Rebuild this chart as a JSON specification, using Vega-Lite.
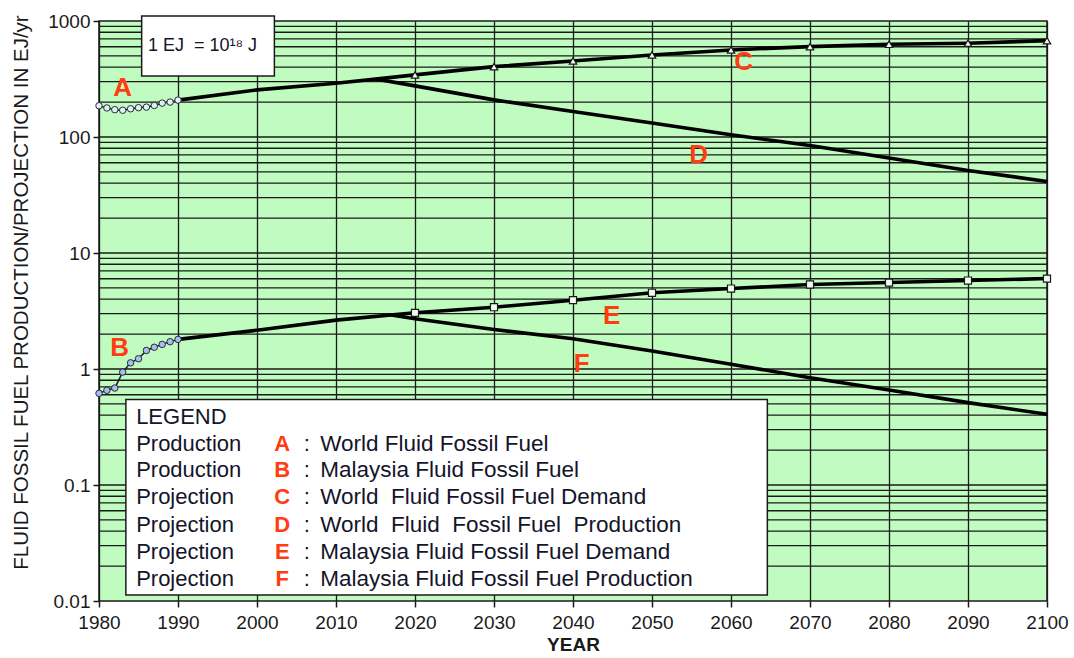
{
  "$schema": "https://vega.github.io/schema/vega-lite/v6.json",
  "width": 948,
  "height": 580,
  "autosize": {"type": "none"},
  "padding": {"left": 99, "top": 21, "right": 27, "bottom": 57},
  "background": "white",
  "config": {
    "font": "Liberation Sans",
    "view": {"fill": "#c0fcc0", "stroke": "#1a1a1a", "strokeWidth": 1.5},
    "axisX": {
      "grid": true, "gridColor": "#1a1a1a", "gridWidth": 1.3, "gridOpacity": 1,
      "domain": false, "tickColor": "#1a1a1a", "tickSize": 6, "tickWidth": 1.5,
      "labelFontSize": 19, "labelColor": "#1a1a1a", "labelPadding": 6, "labelFlush": false, "labelBound": false, "labelOverlap": false,
      "titleFontSize": 19, "titleFontWeight": "bold", "titleColor": "#1a1a1a", "titlePadding": 3
    },
    "axisY": {
      "grid": false, "domain": false, "tickColor": "#1a1a1a", "tickSize": 6, "tickWidth": 1.5,
      "labelFontSize": 19, "labelColor": "#1a1a1a", "labelPadding": 3, "labelFlush": false, "labelBound": false, "labelOverlap": false,
      "titleFontSize": 20.5, "titleFontWeight": "normal", "titleColor": "#1a1a1a", "titlePadding": 16, "titleY": 271
    }
  },
  "datasets": {
    "grid": [
      {"value": 0.02}, {"value": 0.03}, {"value": 0.04}, {"value": 0.05}, {"value": 0.06}, {"value": 0.07}, {"value": 0.08}, {"value": 0.09},
      {"value": 0.1}, {"value": 0.2}, {"value": 0.3}, {"value": 0.4}, {"value": 0.5}, {"value": 0.6}, {"value": 0.7}, {"value": 0.8}, {"value": 0.9},
      {"value": 1}, {"value": 2}, {"value": 3}, {"value": 4}, {"value": 5}, {"value": 6}, {"value": 7}, {"value": 8}, {"value": 9},
      {"value": 10}, {"value": 20}, {"value": 30}, {"value": 40}, {"value": 50}, {"value": 60}, {"value": 70}, {"value": 80}, {"value": 90},
      {"value": 100}, {"value": 200}, {"value": 300}, {"value": 400}, {"value": 500}, {"value": 600}, {"value": 700}, {"value": 800}, {"value": 900}
    ],
    "obs": [
      {"series": "A", "year": 1980, "value": 186}, {"series": "A", "year": 1981, "value": 178}, {"series": "A", "year": 1982, "value": 172},
      {"series": "A", "year": 1983, "value": 170}, {"series": "A", "year": 1984, "value": 175}, {"series": "A", "year": 1985, "value": 179},
      {"series": "A", "year": 1986, "value": 181}, {"series": "A", "year": 1987, "value": 187}, {"series": "A", "year": 1988, "value": 196},
      {"series": "A", "year": 1989, "value": 200}, {"series": "A", "year": 1990, "value": 208},
      {"series": "B", "year": 1980, "value": 0.617}, {"series": "B", "year": 1981, "value": 0.655}, {"series": "B", "year": 1982, "value": 0.685},
      {"series": "B", "year": 1983, "value": 0.94}, {"series": "B", "year": 1984, "value": 1.13}, {"series": "B", "year": 1985, "value": 1.226},
      {"series": "B", "year": 1986, "value": 1.445}, {"series": "B", "year": 1987, "value": 1.54}, {"series": "B", "year": 1988, "value": 1.63},
      {"series": "B", "year": 1989, "value": 1.72}, {"series": "B", "year": 1990, "value": 1.8}
    ],
    "proj": [
      {"series": "C", "year": 1990, "value": 208}, {"series": "C", "year": 2000, "value": 255}, {"series": "C", "year": 2010, "value": 291},
      {"series": "C", "year": 2020, "value": 343}, {"series": "C", "year": 2030, "value": 404}, {"series": "C", "year": 2040, "value": 452},
      {"series": "C", "year": 2050, "value": 510}, {"series": "C", "year": 2060, "value": 563}, {"series": "C", "year": 2070, "value": 601},
      {"series": "C", "year": 2080, "value": 630}, {"series": "C", "year": 2090, "value": 643}, {"series": "C", "year": 2100, "value": 677},
      {"series": "D", "year": 2015, "value": 316}, {"series": "D", "year": 2020, "value": 276}, {"series": "D", "year": 2030, "value": 209},
      {"series": "D", "year": 2040, "value": 166}, {"series": "D", "year": 2050, "value": 132}, {"series": "D", "year": 2060, "value": 104.5},
      {"series": "D", "year": 2070, "value": 84.5}, {"series": "D", "year": 2080, "value": 65.8}, {"series": "D", "year": 2090, "value": 51.5},
      {"series": "D", "year": 2100, "value": 41.4},
      {"series": "E", "year": 1990, "value": 1.8}, {"series": "E", "year": 2000, "value": 2.16}, {"series": "E", "year": 2010, "value": 2.64},
      {"series": "E", "year": 2020, "value": 3.05}, {"series": "E", "year": 2030, "value": 3.41}, {"series": "E", "year": 2040, "value": 3.92},
      {"series": "E", "year": 2050, "value": 4.54}, {"series": "E", "year": 2060, "value": 4.94}, {"series": "E", "year": 2070, "value": 5.35},
      {"series": "E", "year": 2080, "value": 5.56}, {"series": "E", "year": 2090, "value": 5.79}, {"series": "E", "year": 2100, "value": 6.02},
      {"series": "F", "year": 2017, "value": 2.92}, {"series": "F", "year": 2020, "value": 2.71}, {"series": "F", "year": 2030, "value": 2.19},
      {"series": "F", "year": 2040, "value": 1.82}, {"series": "F", "year": 2050, "value": 1.43}, {"series": "F", "year": 2060, "value": 1.1},
      {"series": "F", "year": 2070, "value": 0.84}, {"series": "F", "year": 2080, "value": 0.658}, {"series": "F", "year": 2090, "value": 0.513},
      {"series": "F", "year": 2100, "value": 0.407}
    ],
    "letters": [
      {"letter": "A", "year": 1983, "value": 265},
      {"letter": "B", "year": 1982.6, "value": 1.53},
      {"letter": "C", "year": 2061.6, "value": 443},
      {"letter": "D", "year": 2055.9, "value": 70.3},
      {"letter": "E", "year": 2044.9, "value": 2.89},
      {"letter": "F", "year": 2041.1, "value": 1.1}
    ],
    "boxes": [
      {"box": "legend", "year": 1983.4, "year2": 2064.6, "value": 0.547, "value2": 0.01125},
      {"box": "unit", "year": 1985.4, "year2": 2002.2, "value": 1104, "value2": 336}
    ],
    "legendRows": [
      {"kind": "Production", "letter": "A", "desc": "World Fluid Fossil Fuel", "value": 0.2244},
      {"kind": "Production", "letter": "B", "desc": "Malaysia Fluid Fossil Fuel", "value": 0.1341},
      {"kind": "Projection", "letter": "C", "desc": "World\u00a0 Fluid Fossil Fuel Demand", "value": 0.0785},
      {"kind": "Projection", "letter": "D", "desc": "World\u00a0 Fluid\u00a0 Fossil Fuel\u00a0 Production", "value": 0.0451},
      {"kind": "Projection", "letter": "E", "desc": "Malaysia Fluid Fossil Fuel Demand", "value": 0.0264},
      {"kind": "Projection", "letter": "F", "desc": "Malaysia Fluid Fossil Fuel Production", "value": 0.01545}
    ],
    "notes": [
      {"label": "LEGEND", "year": 1984.7, "value": 0.3833},
      {"label": "1 EJ\u00a0 = 10¹⁸ J", "year": 1986.2, "value": 609}
    ]
  },
  "layer": [
    {
      "data": {"name": "grid"},
      "mark": {"type": "rule", "color": "#1a1a1a", "strokeWidth": 1.3},
      "encoding": {
        "y": {"field": "value", "type": "quantitative", "scale": {"type": "log", "domain": [0.01, 1000], "nice": false}, "axis": {"title": "FLUID FOSSIL FUEL PRODUCTION/PROJECTION IN EJ/yr", "values": [0.01, 0.1, 1, 10, 100, 1000], "format": "~g"}}
      }
    },
    {
      "data": {"name": "boxes"},
      "mark": {"type": "rect", "fill": "white", "stroke": "#1a1a1a", "strokeWidth": 1.5},
      "encoding": {
        "x": {"field": "year", "type": "quantitative", "scale": {"domain": [1980, 2100], "nice": false, "zero": false}, "axis": {"title": "YEAR", "values": [1980, 1990, 2000, 2010, 2020, 2030, 2040, 2050, 2060, 2070, 2080, 2090, 2100], "format": "d"}},
        "x2": {"field": "year2"},
        "y": {"field": "value", "type": "quantitative", "scale": {"type": "log", "domain": [0.01, 1000], "nice": false}, "axis": {"title": "FLUID FOSSIL FUEL PRODUCTION/PROJECTION IN EJ/yr", "values": [0.01, 0.1, 1, 10, 100, 1000], "format": "~g"}},
        "y2": {"field": "value2"}
      }
    },
    {
      "data": {"name": "proj"},
      "mark": {"type": "line", "color": "black", "strokeWidth": 3.6},
      "encoding": {
        "x": {"field": "year", "type": "quantitative", "scale": {"domain": [1980, 2100], "nice": false, "zero": false}, "axis": {"title": "YEAR", "values": [1980, 1990, 2000, 2010, 2020, 2030, 2040, 2050, 2060, 2070, 2080, 2090, 2100], "format": "d"}},
        "y": {"field": "value", "type": "quantitative", "scale": {"type": "log", "domain": [0.01, 1000], "nice": false}, "axis": {"title": "FLUID FOSSIL FUEL PRODUCTION/PROJECTION IN EJ/yr", "values": [0.01, 0.1, 1, 10, 100, 1000], "format": "~g"}},
        "detail": {"field": "series", "type": "nominal"}
      }
    },
    {
      "data": {"name": "obs"},
      "mark": {"type": "line", "color": "#1a1a1a", "strokeWidth": 1.5},
      "encoding": {
        "x": {"field": "year", "type": "quantitative", "scale": {"domain": [1980, 2100], "nice": false, "zero": false}, "axis": {"title": "YEAR", "values": [1980, 1990, 2000, 2010, 2020, 2030, 2040, 2050, 2060, 2070, 2080, 2090, 2100], "format": "d"}},
        "y": {"field": "value", "type": "quantitative", "scale": {"type": "log", "domain": [0.01, 1000], "nice": false}, "axis": {"title": "FLUID FOSSIL FUEL PRODUCTION/PROJECTION IN EJ/yr", "values": [0.01, 0.1, 1, 10, 100, 1000], "format": "~g"}},
        "detail": {"field": "series", "type": "nominal"}
      }
    },
    {
      "data": {"name": "obs"},
      "mark": {"type": "point", "shape": "circle", "filled": true, "size": 42, "stroke": "#2a2a3a", "strokeWidth": 1, "opacity": 1},
      "encoding": {
        "x": {"field": "year", "type": "quantitative", "scale": {"domain": [1980, 2100], "nice": false, "zero": false}, "axis": {"title": "YEAR", "values": [1980, 1990, 2000, 2010, 2020, 2030, 2040, 2050, 2060, 2070, 2080, 2090, 2100], "format": "d"}},
        "y": {"field": "value", "type": "quantitative", "scale": {"type": "log", "domain": [0.01, 1000], "nice": false}, "axis": {"title": "FLUID FOSSIL FUEL PRODUCTION/PROJECTION IN EJ/yr", "values": [0.01, 0.1, 1, 10, 100, 1000], "format": "~g"}},
        "fill": {"field": "series", "type": "nominal", "scale": {"domain": ["A", "B"], "range": ["#dcf2f5", "#a9bdf0"]}, "legend": null}
      }
    },
    {
      "data": {"name": "proj"},
      "transform": [{"filter": "datum.series === 'C' && datum.year >= 2020"}],
      "mark": {"type": "point", "shape": "triangle-up", "filled": true, "fill": "#eefcee", "size": 55, "stroke": "#1a1a1a", "strokeWidth": 1.2, "opacity": 1},
      "encoding": {
        "x": {"field": "year", "type": "quantitative", "scale": {"domain": [1980, 2100], "nice": false, "zero": false}, "axis": {"title": "YEAR", "values": [1980, 1990, 2000, 2010, 2020, 2030, 2040, 2050, 2060, 2070, 2080, 2090, 2100], "format": "d"}},
        "y": {"field": "value", "type": "quantitative", "scale": {"type": "log", "domain": [0.01, 1000], "nice": false}, "axis": {"title": "FLUID FOSSIL FUEL PRODUCTION/PROJECTION IN EJ/yr", "values": [0.01, 0.1, 1, 10, 100, 1000], "format": "~g"}}
      }
    },
    {
      "data": {"name": "proj"},
      "transform": [{"filter": "datum.series === 'E' && datum.year >= 2020"}],
      "mark": {"type": "point", "shape": "square", "filled": true, "fill": "#eefcee", "size": 50, "stroke": "#1a1a1a", "strokeWidth": 1.2, "opacity": 1},
      "encoding": {
        "x": {"field": "year", "type": "quantitative", "scale": {"domain": [1980, 2100], "nice": false, "zero": false}, "axis": {"title": "YEAR", "values": [1980, 1990, 2000, 2010, 2020, 2030, 2040, 2050, 2060, 2070, 2080, 2090, 2100], "format": "d"}},
        "y": {"field": "value", "type": "quantitative", "scale": {"type": "log", "domain": [0.01, 1000], "nice": false}, "axis": {"title": "FLUID FOSSIL FUEL PRODUCTION/PROJECTION IN EJ/yr", "values": [0.01, 0.1, 1, 10, 100, 1000], "format": "~g"}}
      }
    },
    {
      "data": {"name": "letters"},
      "mark": {"type": "text", "fontSize": 26, "fontWeight": "bold", "color": "#ff3c12", "align": "center", "baseline": "middle"},
      "encoding": {
        "x": {"field": "year", "type": "quantitative", "scale": {"domain": [1980, 2100], "nice": false, "zero": false}, "axis": {"title": "YEAR", "values": [1980, 1990, 2000, 2010, 2020, 2030, 2040, 2050, 2060, 2070, 2080, 2090, 2100], "format": "d"}},
        "y": {"field": "value", "type": "quantitative", "scale": {"type": "log", "domain": [0.01, 1000], "nice": false}, "axis": {"title": "FLUID FOSSIL FUEL PRODUCTION/PROJECTION IN EJ/yr", "values": [0.01, 0.1, 1, 10, 100, 1000], "format": "~g"}},
        "text": {"field": "letter"}
      }
    },
    {
      "data": {"name": "notes"},
      "transform": [{"filter": "datum.label === 'LEGEND'"}],
      "mark": {"type": "text", "fontSize": 22, "color": "#14142a", "align": "left", "baseline": "middle"},
      "encoding": {
        "x": {"field": "year", "type": "quantitative", "scale": {"domain": [1980, 2100], "nice": false, "zero": false}, "axis": {"title": "YEAR", "values": [1980, 1990, 2000, 2010, 2020, 2030, 2040, 2050, 2060, 2070, 2080, 2090, 2100], "format": "d"}},
        "y": {"field": "value", "type": "quantitative", "scale": {"type": "log", "domain": [0.01, 1000], "nice": false}, "axis": {"title": "FLUID FOSSIL FUEL PRODUCTION/PROJECTION IN EJ/yr", "values": [0.01, 0.1, 1, 10, 100, 1000], "format": "~g"}},
        "text": {"field": "label"}
      }
    },
    {
      "data": {"name": "notes"},
      "transform": [{"filter": "datum.label !== 'LEGEND'"}],
      "mark": {"type": "text", "fontSize": 18, "color": "#14142a", "align": "left", "baseline": "middle"},
      "encoding": {
        "x": {"field": "year", "type": "quantitative", "scale": {"domain": [1980, 2100], "nice": false, "zero": false}, "axis": {"title": "YEAR", "values": [1980, 1990, 2000, 2010, 2020, 2030, 2040, 2050, 2060, 2070, 2080, 2090, 2100], "format": "d"}},
        "y": {"field": "value", "type": "quantitative", "scale": {"type": "log", "domain": [0.01, 1000], "nice": false}, "axis": {"title": "FLUID FOSSIL FUEL PRODUCTION/PROJECTION IN EJ/yr", "values": [0.01, 0.1, 1, 10, 100, 1000], "format": "~g"}},
        "text": {"field": "label"}
      }
    },
    {
      "data": {"name": "legendRows"},
      "mark": {"type": "text", "fontSize": 22, "color": "#14142a", "align": "left", "baseline": "middle"},
      "encoding": {
        "x": {"datum": 1984.7, "type": "quantitative", "scale": {"domain": [1980, 2100], "nice": false, "zero": false}, "axis": {"title": "YEAR", "values": [1980, 1990, 2000, 2010, 2020, 2030, 2040, 2050, 2060, 2070, 2080, 2090, 2100], "format": "d"}},
        "y": {"field": "value", "type": "quantitative", "scale": {"type": "log", "domain": [0.01, 1000], "nice": false}, "axis": {"title": "FLUID FOSSIL FUEL PRODUCTION/PROJECTION IN EJ/yr", "values": [0.01, 0.1, 1, 10, 100, 1000], "format": "~g"}},
        "text": {"field": "kind"}
      }
    },
    {
      "data": {"name": "legendRows"},
      "mark": {"type": "text", "fontSize": 22, "fontWeight": "bold", "color": "#ff3c12", "align": "center", "baseline": "middle"},
      "encoding": {
        "x": {"datum": 2003.2, "type": "quantitative", "scale": {"domain": [1980, 2100], "nice": false, "zero": false}, "axis": {"title": "YEAR", "values": [1980, 1990, 2000, 2010, 2020, 2030, 2040, 2050, 2060, 2070, 2080, 2090, 2100], "format": "d"}},
        "y": {"field": "value", "type": "quantitative", "scale": {"type": "log", "domain": [0.01, 1000], "nice": false}, "axis": {"title": "FLUID FOSSIL FUEL PRODUCTION/PROJECTION IN EJ/yr", "values": [0.01, 0.1, 1, 10, 100, 1000], "format": "~g"}},
        "text": {"field": "letter"}
      }
    },
    {
      "data": {"name": "legendRows"},
      "mark": {"type": "text", "fontSize": 22, "color": "#14142a", "align": "center", "baseline": "middle", "text": ":"},
      "encoding": {
        "x": {"datum": 2006.3, "type": "quantitative", "scale": {"domain": [1980, 2100], "nice": false, "zero": false}, "axis": {"title": "YEAR", "values": [1980, 1990, 2000, 2010, 2020, 2030, 2040, 2050, 2060, 2070, 2080, 2090, 2100], "format": "d"}},
        "y": {"field": "value", "type": "quantitative", "scale": {"type": "log", "domain": [0.01, 1000], "nice": false}, "axis": {"title": "FLUID FOSSIL FUEL PRODUCTION/PROJECTION IN EJ/yr", "values": [0.01, 0.1, 1, 10, 100, 1000], "format": "~g"}}
      }
    },
    {
      "data": {"name": "legendRows"},
      "mark": {"type": "text", "fontSize": 22.5, "color": "#14142a", "align": "left", "baseline": "middle"},
      "encoding": {
        "x": {"datum": 2008.0, "type": "quantitative", "scale": {"domain": [1980, 2100], "nice": false, "zero": false}, "axis": {"title": "YEAR", "values": [1980, 1990, 2000, 2010, 2020, 2030, 2040, 2050, 2060, 2070, 2080, 2090, 2100], "format": "d"}},
        "y": {"field": "value", "type": "quantitative", "scale": {"type": "log", "domain": [0.01, 1000], "nice": false}, "axis": {"title": "FLUID FOSSIL FUEL PRODUCTION/PROJECTION IN EJ/yr", "values": [0.01, 0.1, 1, 10, 100, 1000], "format": "~g"}},
        "text": {"field": "desc"}
      }
    }
  ]
}
